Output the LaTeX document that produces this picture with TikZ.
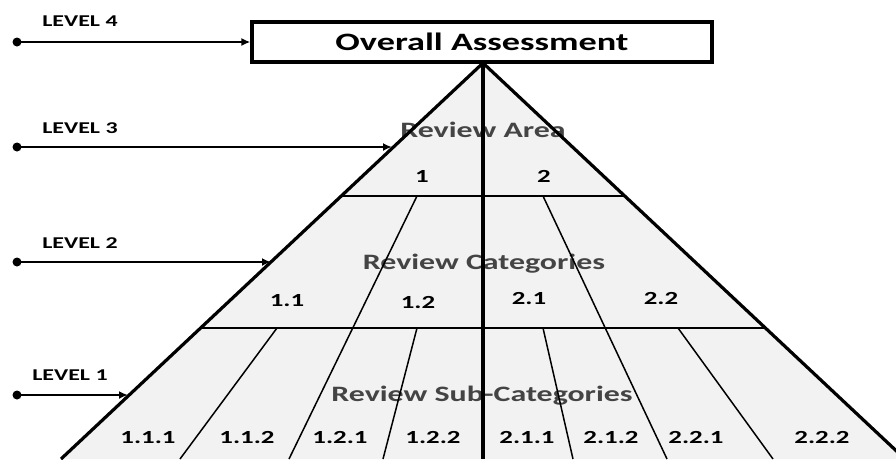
\documentclass[tikz,border=0pt]{standalone}
\usepackage{fontspec}
\newfontfamily\lblfont[FakeStretch=1.45]{Carlito}
\usetikzlibrary{arrows.meta}
\definecolor{pyrfill}{HTML}{F2F2F2}
\definecolor{areagray}{HTML}{444444}
\tikzset{
  lbl/.style={font=\lblfont\bfseries\fontsize{#1}{#1}\selectfont, inner sep=0pt, anchor=base},
  lvl/.style={lbl=16.5},
  num/.style={lbl=18.5},
  area/.style={lbl=22, text=areagray},
  dotnode/.style={circle, fill=black, inner sep=0pt, minimum size=9pt},
  lvlarrow/.style={line width=2.4pt, -{Latex[length=9pt,width=8pt]}, shorten <=-3pt},
  outer/.style={line width=3.2pt, line join=miter},
  hline/.style={line width=2.6pt},
  divider/.style={line width=1.5pt},
}
\begin{document}
\begin{tikzpicture}[x=1pt, y=-1pt]
\useasboundingbox (0,0) rectangle (896,459);
% pyramid
\begin{scope}
\clip (0,0) rectangle (896,459);
\coordinate (apex) at (483,63);
\coordinate (bl) at (61,459);
\coordinate (br) at (905,459);
\fill[pyrfill] (apex) -- (bl) -- (br) -- cycle;
% area texts (under lines)
\node[area] (ra) at (483,137) {Review Area};
\node[area] (rc) at (484,269) {Review Categories};
\node[area] (rs) at (482,401) {Review Sub-Categories};
% horizontal separators
\coordinate (h1l) at (341.4,196); \coordinate (h1r) at (624.6,196);
\coordinate (h2l) at (200.8,328); \coordinate (h2r) at (765.2,328);
\draw[hline] (h1l) -- (h1r);
\draw[hline] (h2l) -- (h2r);
% dividers
\coordinate (d1t) at (417,196); \coordinate (d1b) at (289,459);
\coordinate (d2t) at (543,196); \coordinate (d2b) at (667,459);
\coordinate (d3t) at (277,328); \coordinate (d3b) at (180,459);
\coordinate (d4t) at (417,328); \coordinate (d4b) at (383,459);
\coordinate (d5t) at (543,328); \coordinate (d5b) at (573,459);
\coordinate (d6t) at (678,328); \coordinate (d6b) at (773,459);
\foreach \i in {1,...,6} \draw[divider] (d\i t) -- (d\i b);
% centre line
\coordinate (cb) at (483,459);
\draw[outer] (apex) -- (cb);
% outline
\draw[outer] (bl) -- (apex) -- (br);
\end{scope}
% box
\node[draw, line width=3.2pt, minimum width=460pt, minimum height=40pt, inner sep=0pt] (box) at (482,42) {};
\node[lbl=25] (oa) at (482,50) {Overall Assessment};
% numbers
\node[num] (n1) at (422,182) {1};
\node[num] (n2) at (544,182) {2};
\node[num] (n11) at (287,306) {1.1};
\node[num] (n12) at (418,308) {1.2};
\node[num] (n21) at (529,304) {2.1};
\node[num] (n22) at (661,304) {2.2};
\node[num] (n111) at (148,443) {1.1.1};
\node[num] (n112) at (247,443) {1.1.2};
\node[num] (n121) at (340,443) {1.2.1};
\node[num] (n122) at (433,443) {1.2.2};
\node[num] (n211) at (527,443) {2.1.1};
\node[num] (n212) at (611,443) {2.1.2};
\node[num] (n221) at (696,443) {2.2.1};
\node[num] (n222) at (822,443) {2.2.2};
% level labels
\node[lvl] (l4) at (80,26) {LEVEL 4};
\node[lvl] (l3) at (80,133) {LEVEL 3};
\node[lvl] (l2) at (80,248) {LEVEL 2};
\node[lvl] (l1) at (70,380) {LEVEL 1};
% level arrows
\node[dotnode] (p4) at (17,42) {};
\node[dotnode] (p3) at (17,147) {};
\node[dotnode] (p2) at (17,262) {};
\node[dotnode] (p1) at (17,395) {};
\coordinate (e3) at (392,147);
\coordinate (e2) at (271,262);
\coordinate (e1) at (128,395);
\draw[lvlarrow] (p4) -- (box.west);
\draw[lvlarrow] (p3) -- (e3);
\draw[lvlarrow] (p2) -- (e2);
\draw[lvlarrow] (p1) -- (e1);
\end{tikzpicture}
\end{document}
